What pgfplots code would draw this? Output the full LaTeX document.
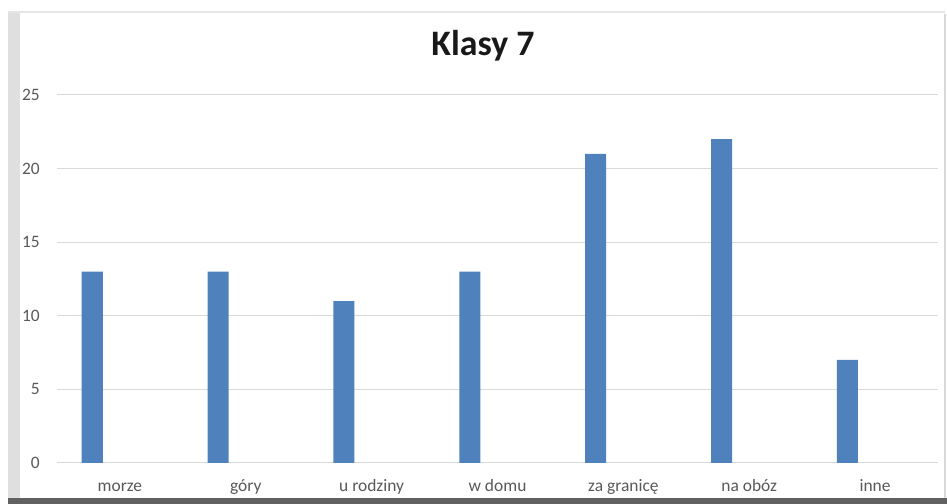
\documentclass[border=0pt]{standalone}
\usepackage{pgfplots}
\pgfplotsset{compat=1.18}
\usepackage{fontspec}
\setmainfont{Carlito}
\definecolor{barblue}{HTML}{4F81BD}
\definecolor{txtgray}{HTML}{595959}
\definecolor{gridgray}{HTML}{D9D9D9}
\begin{document}
\begin{tikzpicture}[x=1bp,y=1bp]
\useasboundingbox (0,0) rectangle (947,504);
\fill[white] (0,0) rectangle (947,504);
% frame
\fill[gray!25] (8,6) rectangle (20,492);
\draw[gray!20, line width=2bp] (8,492) -- (945,492);
\draw[gray!30, line width=1.5bp] (945,6) -- (945,490);
\fill[black!62] (8,0) rectangle (947,6);
\node[anchor=base, font=\fontsize{36}{40}\selectfont\bfseries, text=black!90] at (483,448) {Klasy 7};
\begin{axis}[
  at={(57bp,41bp)}, anchor=south west,
  scale only axis, width=881bp, height=368bp,
  xmin=-0.5, xmax=6.5, ymin=0, ymax=25,
  axis line style={draw=none},
  major tick length=0pt,
  ymajorgrids, grid style={gridgray, line width=1bp},
  ytick={0,5,10,15,20,25},
  xtick={0,1,2,3,4,5,6},
  xticklabels={morze,góry,u rodziny,w domu,za granicę,na obóz,inne},
  tick label style={font=\fontsize{17.5}{20}\selectfont, text=txtgray, inner sep=0pt},
  /pgf/number format/assume math mode=true,
  yticklabel style={anchor=east},
  ytick style={draw=none}, xtick style={draw=none},
  xticklabel style={anchor=base, yshift=-29bp},
  yticklabel style={xshift=-17bp},
  clip=false,
]
\addplot[ybar, bar width=0.167, bar shift=-0.22, fill=barblue, draw=none]
  coordinates {(0,13) (1,13) (2,11) (3,13) (4,21) (5,22) (6,7)};
\end{axis}
\end{tikzpicture}
\end{document}
